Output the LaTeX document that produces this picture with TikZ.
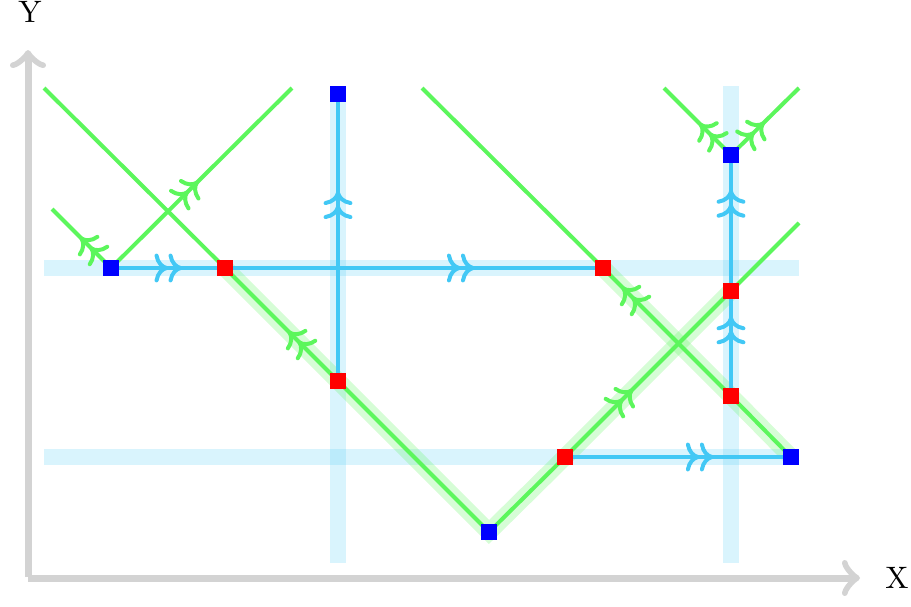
\documentclass[tikz,border=0pt]{standalone}
\usetikzlibrary{arrows.meta,decorations.markings}
\pgfdeclarelayer{bands}
\pgfdeclarelayer{lines}
\pgfsetlayers{bands,lines,main}
\definecolor{gline}{RGB}{92,246,92}
\definecolor{bline}{RGB}{66,200,245}
\definecolor{axisgray}{RGB}{211,211,211}
\newcommand{\chevmark}{%
  \draw[line width=2pt,line cap=round,line join=round,solid]
    (-5pt,6.2pt) .. controls (-4.4pt,2.6pt) and (-2.2pt,0.5pt) .. (0pt,0pt)
    .. controls (-2.2pt,-0.5pt) and (-4.4pt,-2.6pt) .. (-5pt,-6.2pt);}
\newcommand{\biglab}[1]{\scalebox{1.55}{#1}}
\tikzset{
  sq/.style={rectangle,minimum size=8pt,inner sep=0pt,outer sep=0pt},
  rsq/.style={sq,fill=red},
  bsq/.style={sq,fill=blue},
  gl/.style={gline,line width=2pt},
  bl/.style={bline,line width=2pt},
  gband/.style={gline,opacity=0.25,line width=8.5pt},
  bband/.style={bline,opacity=0.2,line width=8pt},
  axisline/.style={axisgray,line width=3.5pt,-{Classical TikZ Rightarrow[length=9pt,width=18pt]}},
  fl/.style={postaction={decorate,decoration={markings,
     mark=at position #1 with {\chevmark\pgftransformxshift{-7pt}\chevmark}}}},
  lab/.style={anchor=base,inner sep=0pt},
}
\begin{document}
\begin{tikzpicture}[x=0.5pt,y=-0.5pt]
\useasboundingbox (0,0) rectangle (911,606);
% nodes
\node[bsq] (b1) at (111,268) {};
\node[bsq] (b2) at (338,94) {};
\node[bsq] (b3) at (489,532) {};
\node[bsq] (b4) at (791,457) {};
\node[bsq] (b5) at (731,155) {};
\node[rsq] (r1) at (225,268) {};
\node[rsq] (r2) at (338,381) {};
\node[rsq] (r3) at (603,268) {};
\node[rsq] (r5) at (565,457) {};
\node[rsq] (r6) at (731,291) {};
\node[rsq] (r7) at (731,396) {};
% free ends
\coordinate (e1) at (44,88);
\coordinate (e2) at (292,88);
\coordinate (e3) at (52,209);
\coordinate (e4) at (422,88);
\coordinate (e5) at (799,223);
\coordinate (e6) at (664,88);
\coordinate (e7) at (799,88);
% band ends
\coordinate (h1l) at (44,268);
\coordinate (h1r) at (799,268);
\coordinate (h2l) at (44,457);
\coordinate (h2r) at (799,457);
\coordinate (v1t) at (338,86);
\coordinate (v1b) at (338,563);
\coordinate (v2t) at (731,86);
\coordinate (v2b) at (731,563);
% axes
\coordinate (O) at (28,578);
\coordinate (xe) at (860,578);
\coordinate (ye) at (28,50);
\coordinate (O2) at (28,577);
\draw[axisline] (O) -- (xe);
\draw[axisline] (O2) -- (ye);
\node[lab] (ylab) at (30,22) {\biglab{Y}};
\node[lab] (xlab) at (897,588) {\biglab{X}};
\begin{pgfonlayer}{bands}
\draw[bband] (h1l) -- (h1r);
\draw[bband] (h2l) -- (h2r);
\draw[bband] (v1t) -- (v1b);
\draw[bband] (v2t) -- (v2b);
\draw[gband] (r1.center) -- (r2.center) -- (b3.center) -- (r5.center) -- (r6.center);
\draw[gband] (r3.center) -- (r7.center) -- (b4.center);
\end{pgfonlayer}
\begin{pgfonlayer}{lines}
% green
\draw[gl] (e1) -- (r1.center);
\draw[gl,fl=0.43] (r2.center) -- (r1.center);
\draw[gl] (r2.center) -- (b3.center);
\draw[gl] (b3.center) -- (r5.center);
\draw[gl,fl=0.40] (r5.center) -- (r6.center);
\draw[gl] (r6.center) -- (e5);
\draw[gl] (e4) -- (r3.center);
\draw[gl,fl=0.84] (r7.center) -- (r3.center);
\draw[gl] (r7.center) -- (b4.center);
\draw[gl,fl=0.50] (b1.center) -- (e3);
\draw[gl,fl=0.475] (b1.center) -- (e2);
\draw[gl,fl=0.45] (b5.center) -- (e6);
\draw[gl,fl=0.47] (b5.center) -- (e7);
% blue
\draw[bl,fl=0.61] (b1.center) -- (r1.center);
\draw[bl,fl=0.656] (r1.center) -- (r3.center);
\draw[bl,fl=0.655] (r2.center) -- (b2.center);
\draw[bl,fl=0.74] (r7.center) -- (r6.center);
\draw[bl,fl=0.73] (r6.center) -- (b5.center);
\draw[bl,fl=0.65] (r5.center) -- (b4.center);
\end{pgfonlayer}
\end{tikzpicture}
\end{document}
